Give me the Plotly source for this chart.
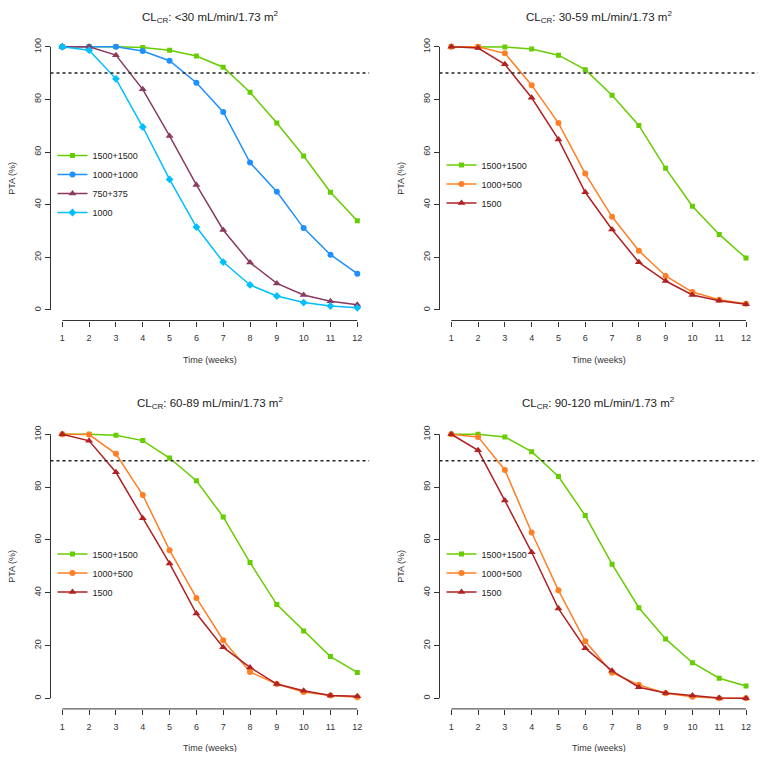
import plotly.graph_objects as go

weeks = list(range(1, 13))

# Panel 1: CLCR <30
p1_1500_1500 = [100, 100, 100, 99.7, 98.7, 96.5, 92.2, 82.7, 71.0, 58.5, 44.7, 33.9]
p1_1000_1000 = [100, 100, 100, 98.4, 94.7, 86.3, 75.2, 56.0, 44.9, 31.1, 21.0, 13.8]
p1_750_375 = [100, 100, 96.8, 83.8, 66.1, 47.5, 30.4, 18.0, 10.1, 5.7, 3.3, 2.0]
p1_1000 = [100, 98.7, 87.8, 69.5, 49.6, 31.5, 18.2, 9.5, 5.3, 2.8, 1.5, 0.8]

# Panel 2: CLCR 30-59
p2_1500_1500 = [100, 100, 99.9, 99.1, 96.8, 91.3, 81.6, 70.1, 53.8, 39.4, 28.7, 19.7]
p2_1000_500 = [100, 100, 97.5, 85.4, 71.0, 51.8, 35.4, 22.5, 12.9, 6.8, 3.9, 2.4]
p2_1500 = [100, 99.5, 93.3, 80.6, 64.8, 44.7, 30.6, 18.1, 11.0, 5.7, 3.5, 2.2]

# Panel 3: CLCR 60-89
p3_1500_1500 = [100, 100, 99.6, 97.6, 91.0, 82.4, 68.7, 51.4, 35.5, 25.5, 15.8, 9.8]
p3_1000_500 = [100, 99.9, 92.6, 77.0, 56.1, 38.0, 22.0, 10.0, 5.4, 2.4, 1.1, 0.4]
p3_1500 = [100, 97.5, 85.6, 68.2, 51.1, 32.1, 19.3, 11.7, 5.4, 2.9, 1.1, 0.8]

# Panel 4: CLCR 90-120
p4_1500_1500 = [100, 100, 99.0, 93.4, 84.0, 69.2, 50.8, 34.3, 22.5, 13.5, 7.6, 4.7]
p4_1000_500 = [100, 99.0, 86.5, 62.8, 40.9, 21.6, 9.7, 5.1, 1.9, 0.6, 0.0, 0.0]
p4_1500 = [100, 93.9, 74.9, 55.3, 34.0, 19.0, 10.4, 4.2, 2.0, 1.1, 0.1, 0.0]

titles = [
    "CL<sub>CR</sub>: &lt;30 mL/min/1.73 m<sup>2</sup>",
    "CL<sub>CR</sub>: 30-59 mL/min/1.73 m<sup>2</sup>",
    "CL<sub>CR</sub>: 60-89 mL/min/1.73 m<sup>2</sup>",
    "CL<sub>CR</sub>: 90-120 mL/min/1.73 m<sup>2</sup>",
]
x_ticks = list(range(1, 13))
y_ticks = [0, 20, 40, 60, 80, 100]
target = 90

GREEN = "#66CD00"
BLUE = "#1E90FF"
MAROON = "#8B3A62"
SKY = "#00BFFF"
ORANGE = "#FF7F24"
RED = "#B22222"

FONT = "Liberation Sans, Arial, sans-serif"
OFF = 8  # page body margin
W, H = 766 - 2 * OFF, 760 - 2 * OFF
XR = [0.56, 12.44]
YR = [-4, 104]

panels = [
    [("1500+1500", p1_1500_1500, GREEN, "square", 5),
     ("1000+1000", p1_1000_1000, BLUE, "circle", 6),
     ("750+375", p1_750_375, MAROON, "triangle-up", 7),
     ("1000", p1_1000, SKY, "diamond", 6)],
    [("1500+1500", p2_1500_1500, GREEN, "square", 5),
     ("1000+500", p2_1000_500, ORANGE, "circle", 6),
     ("1500", p2_1500, RED, "triangle-up", 7)],
    [("1500+1500", p3_1500_1500, GREEN, "square", 5),
     ("1000+500", p3_1000_500, ORANGE, "circle", 6),
     ("1500", p3_1500, RED, "triangle-up", 7)],
    [("1500+1500", p4_1500_1500, GREEN, "square", 5),
     ("1000+500", p4_1000_500, ORANGE, "circle", 6),
     ("1500", p4_1500, RED, "triangle-up", 7)],
]

# pixel geometry of plot regions in the window (left, right, top, bottom)
regions = [
    (50.5, 369.1, 36.2, 320.5),
    (439.5, 757.8, 36.2, 320.5),
    (50.5, 369.1, 423.7, 708.9),
    (439.5, 757.8, 423.7, 708.9),
]
title_y = [16.5, 16.5, 403, 403]
xtitle_y = [360, 360, 748, 748]
legend_cy = [184, 184, 573, 573]


def fx(px):
    return (px - OFF) / W


def fy(py):
    return 1 - (py - OFF) / H


fig = go.Figure()
layout = dict(
    width=W, height=H, margin=dict(l=0, r=0, t=0, b=0),
    paper_bgcolor="white", plot_bgcolor="white",
    font=dict(family=FONT, size=9, color="#222"),
    showlegend=True,
)
shapes = []
annotations = []

for i, (series, reg) in enumerate(zip(panels, regions)):
    n = i + 1
    xa = "x" if n == 1 else f"x{n}"
    ya = "y" if n == 1 else f"y{n}"
    lg = "legend" if n == 1 else f"legend{n}"
    left, right, top, bottom = reg
    for name, vals, col, sym, sz in series:
        fig.add_trace(go.Scatter(
            x=weeks, y=vals, name=name, mode="lines+markers",
            line=dict(color=col, width=1.5),
            marker=dict(symbol=sym, size=sz, color=col),
            xaxis=xa, yaxis=ya, legend=lg,
        ))
    layout["xaxis" if n == 1 else f"xaxis{n}"] = dict(
        domain=[fx(left), fx(right)], range=XR, anchor=ya,
        showgrid=False, zeroline=False, showline=False,
        ticks="outside", ticklen=5, tickwidth=1, tickcolor="#333",
        tickvals=x_ticks, tickfont=dict(size=9, color="#333"),
        ticklabelstandoff=4,
    )
    layout["yaxis" if n == 1 else f"yaxis{n}"] = dict(
        domain=[fy(bottom), fy(top)], range=YR, anchor=xa,
        showgrid=False, zeroline=False, showline=False,
        ticks="outside", ticklen=5, tickwidth=1, tickcolor="#333",
        tickvals=y_ticks, tickangle=-90, tickfont=dict(size=9, color="#333"),
    )

    # axis lines spanning only the tick range (R style), in paper coords
    def vy(v):
        return fy(bottom - (v - YR[0]) / (YR[1] - YR[0]) * (bottom - top))

    def vx(v):
        return fx(left + (v - XR[0]) / (XR[1] - XR[0]) * (right - left))

    shapes.append(dict(type="line", xref="paper", yref="paper",
                       x0=fx(left), x1=fx(left), y0=vy(y_ticks[0]), y1=vy(y_ticks[-1]),
                       line=dict(color="#333", width=1)))
    shapes.append(dict(type="line", xref="paper", yref="paper",
                       x0=vx(x_ticks[0]), x1=vx(x_ticks[-1]),
                       y0=fy(bottom), y1=fy(bottom),
                       line=dict(color="#333", width=1)))
    # target line
    shapes.append(dict(type="line", xref=f"{xa} domain", yref=ya,
                       x0=0, x1=1, y0=target, y1=target,
                       line=dict(color="#222", width=1.5, dash="dot")))
    annotations.append(dict(text=titles[i], xref=f"{xa} domain", x=0.5,
                            yref="paper", y=fy(title_y[i]),
                            xanchor="center", yanchor="middle", showarrow=False,
                            font=dict(size=11.5, color="#222")))
    annotations.append(dict(text="Time (weeks)", xref=f"{xa} domain", x=0.5,
                            yref="paper", y=fy(xtitle_y[i]),
                            xanchor="center", yanchor="middle", showarrow=False,
                            font=dict(size=9, color="#333")))
    annotations.append(dict(text="PTA (%)", xref="paper", x=fx(left - 38),
                            yref=f"{ya} domain", y=0.5, textangle=-90,
                            xanchor="center", yanchor="middle", showarrow=False,
                            font=dict(size=9, color="#333")))
    layout[lg] = dict(
        x=fx(left + 2), xanchor="left", y=fy(legend_cy[i]), yanchor="middle",
        bgcolor="rgba(0,0,0,0)", borderwidth=0, font=dict(size=9, color="#222"),
        tracegroupgap=0, itemwidth=30,
    )

layout["shapes"] = shapes
layout["annotations"] = annotations
fig.update_layout(**layout)
fig.write_html("out.html")
